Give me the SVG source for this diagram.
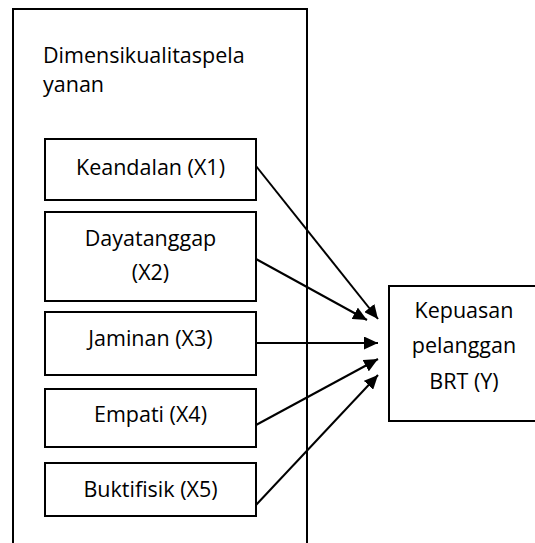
<svg xmlns="http://www.w3.org/2000/svg" width="535" height="543" viewBox="0 0 535 543">
<defs>
<style>
.box{fill:#fff;stroke:#000;stroke-width:2}
.t{font-family:"Open Sans","Liberation Sans",sans-serif;font-size:21.5px;fill:#000}
.c{text-anchor:middle}
.ln{stroke:#000;stroke-width:2;fill:none;marker-end:url(#ah)}
</style>
<marker id="ah" viewBox="0 0 14 13" refX="14" refY="6.5" markerWidth="14" markerHeight="13" markerUnits="userSpaceOnUse" orient="auto">
<path d="M0,0 L14,6.5 L0,13 Z" fill="#000"/>
</marker>
</defs>
<rect width="535" height="543" fill="#fff"/>
<g id="outer">
<rect class="box" x="13" y="9" width="294" height="545" fill="none"/>
<text class="t" x="43" y="63">Dimensikualitaspela</text>
<text class="t" x="43" y="92">yanan</text>
</g>
<g id="x1">
<rect class="box" x="45" y="139" width="211" height="61"/>
<text class="t c" x="150.5" y="175">Keandalan (X1)</text>
</g>
<g id="x2">
<rect class="box" x="45" y="212" width="211" height="89"/>
<text class="t c" x="150.5" y="246">Dayatanggap</text>
<text class="t c" x="150.5" y="280">(X2)</text>
</g>
<g id="x3">
<rect class="box" x="45" y="312" width="211" height="63"/>
<text class="t c" x="150.5" y="346">Jaminan (X3)</text>
</g>
<g id="x4">
<rect class="box" x="45" y="389" width="211" height="58"/>
<text class="t c" x="150.5" y="422">Empati (X4)</text>
</g>
<g id="x5">
<rect class="box" x="45" y="463" width="211" height="53"/>
<text class="t c" x="150.5" y="497">Buktifisik (X5)</text>
</g>
<g id="y">
<rect class="box" x="389" y="286" width="152" height="135"/>
<text class="t c" x="464" y="318">Kepuasan</text>
<text class="t c" x="464" y="353">pelanggan</text>
<text class="t c" x="464" y="389">BRT (Y)</text>
</g>
<g id="connectors">
<line class="ln" x1="256" y1="166" x2="378" y2="319"/>
<line class="ln" x1="256" y1="259" x2="367" y2="320"/>
<line class="ln" x1="256" y1="343" x2="378" y2="343"/>
<line class="ln" x1="256" y1="425" x2="378" y2="359"/>
<line class="ln" x1="256" y1="505" x2="378" y2="375"/>
</g>
</svg>
